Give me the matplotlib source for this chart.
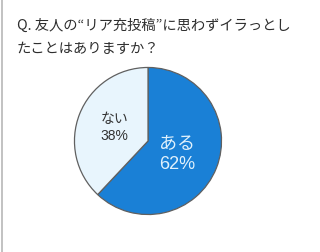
import matplotlib
matplotlib.use("Agg")
import matplotlib.pyplot as plt
from matplotlib.lines import Line2D

plt.rcParams["font.family"] = ["Noto Sans CJK JP", "DejaVu Sans"]

labels = ["ある", "ない"]
shares = [62, 38]
colors = ["#1a80d6", "#e8f5fd"]
text_colors = ["#e0f1fc", "#333333"]
title_lines = ["Q. 友人の“リア充投稿”に思わずイラっとし", "たことはありますか？"]

W, H = 320, 253
fig = plt.figure(figsize=(W/100, H/100), dpi=100)
fig.patch.set_facecolor("white")

# left grey border line
fig.add_artist(Line2D([1.5/W, 1.5/W], [0, 1], color="#b8b8b8", lw=1.2))

# title
y0 = 1 - 26/H
for i, line in enumerate(title_lines):
    fig.text(17/W, y0 - i*23/H, line, ha="left", va="center",
             fontsize=10.3, color="#2e2e2e")

cx, cy, r = 148, 142, 75
ax = fig.add_axes([(cx - r)/W, (H - cy - r)/H, 2*r/W, 2*r/H])
ax.pie(shares, colors=colors, startangle=90, counterclock=False,
       radius=1.0, wedgeprops=dict(edgecolor="#606060", linewidth=0.9))
ax.set_xlim(-1.02, 1.02)
ax.set_ylim(-1.02, 1.02)
ax.axis("off")

pos = [(0.40, -0.03, -0.31, 13), (-0.46, 0.31, 0.08, 10)]
for lab, v, tc, (x, y1, y2, fs) in zip(labels, shares, text_colors, pos):
    ax.text(x, y1, lab, ha="center", va="center", fontsize=fs, color=tc)
    ax.text(x, y2, f"{v}%", ha="center", va="center", fontsize=fs, color=tc,
            family=["Liberation Sans", "DejaVu Sans"])

fig.savefig("out.png", dpi=100)
